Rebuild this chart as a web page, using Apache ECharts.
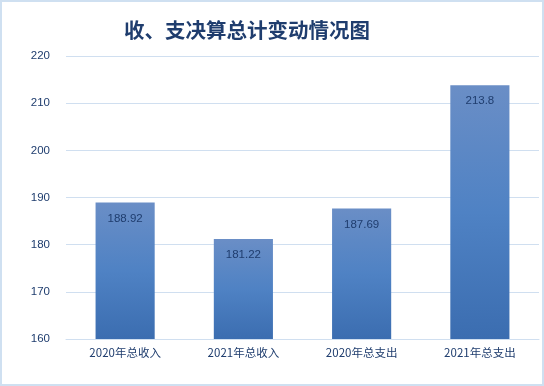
<!DOCTYPE html>
<html><head><meta charset="utf-8">
<script src="https://cdn.jsdelivr.net/npm/echarts@6/dist/echarts.min.js"></script>
<style>html,body{margin:0;padding:0;background:#fff}#c{width:544px;height:386px;box-sizing:border-box;border:2px solid #cfe0f1}</style>
</head><body><div id="c"></div>
<script>
var categories = ['2020年总收入','2021年总收入','2020年总支出','2021年总支出'];
var values = [188.92, 181.22, 187.69, 213.8];
var yTicks = [160, 170, 180, 190, 200, 210, 220];
var chart = echarts.init(document.getElementById('c'));
chart.setOption({
  animation: false,
  backgroundColor: '#fff',
  title: {
    text: '收、支决算总计变动情况图', left: 240, top: 13, textAlign: 'center',
    textStyle: {fontFamily: 'Noto Sans CJK SC', fontWeight: 'bold', fontSize: 20.5, color: '#1f3d6e'}
  },
  grid: {left: 64, right: 3, top: 54, bottom: 45},
  xAxis: {
    type: 'category', data: categories,
    axisLine: {lineStyle: {color: '#d0dff0', width: 1}},
    axisTick: {show: false},
    axisLabel: {color: '#1f3d6e', fontSize: 11.5, fontFamily: 'Noto Sans CJK SC', margin: 8}
  },
  yAxis: {
    type: 'value', min: yTicks[0], max: yTicks[yTicks.length-1], interval: 10,
    axisLine: {show: false}, axisTick: {show: false},
    splitLine: {lineStyle: {color: '#d0dff0', width: 1}},
    axisLabel: {color: '#1f3d6e', fontSize: 11.5, fontFamily: 'Liberation Sans', margin: 16}
  },
  series: [{
    type: 'bar', data: values, barWidth: '50%',
    itemStyle: {color: new echarts.graphic.LinearGradient(0,0,0,1,[
      {offset:0,color:'#6a8ec6'},{offset:0.5,color:'#4f82c4'},{offset:1,color:'#3b6db0'}])},
    label: {show: true, position: 'insideTop', distance: 10, color: '#1f3d6e', fontSize: 11.5, fontFamily: 'Liberation Sans'}
  }]
});
</script></body></html>
